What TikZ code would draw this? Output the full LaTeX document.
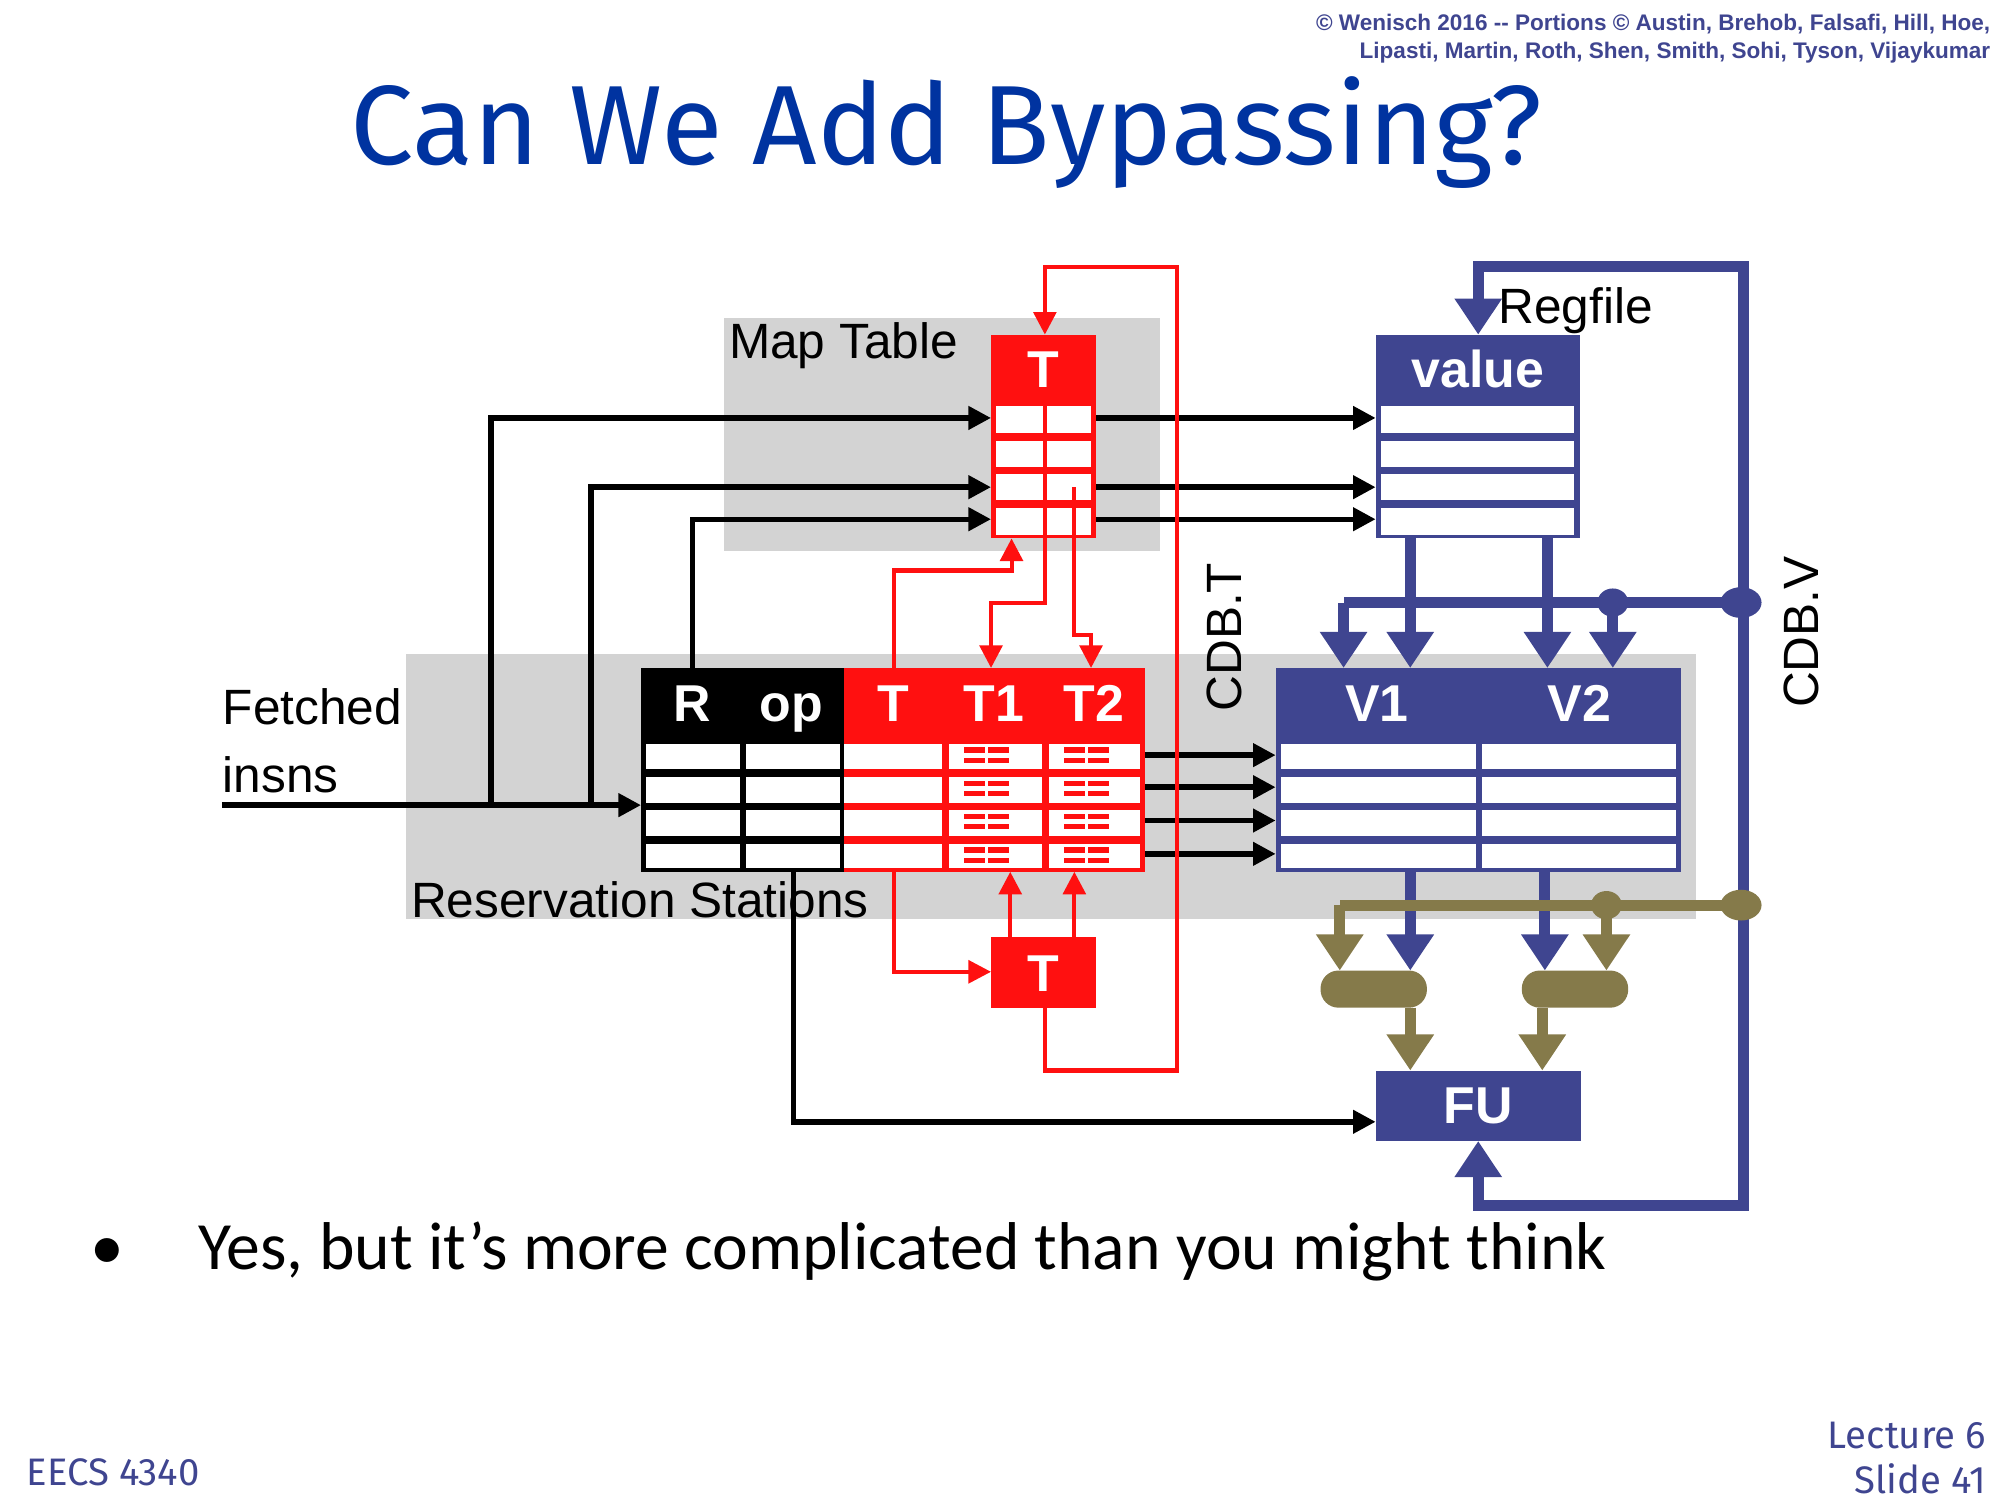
\documentclass[tikz,border=0pt]{standalone}
\usepackage{fontspec}
\setmainfont{Liberation Sans}
\newfontfamily\bodyf{Carlito}
\newfontfamily\titlef{Fira Sans}
\usetikzlibrary{arrows.meta}
\definecolor{tblue}{HTML}{0033A0}
\definecolor{pblue}{HTML}{3F4590}
\definecolor{rred}{HTML}{FF1010}
\definecolor{olive}{HTML}{857A4A}
\definecolor{bg}{HTML}{D3D3D3}
\begin{document}
\begin{tikzpicture}[x=0.01cm,y=-0.01cm,
  blk/.style={line width=1.2pt},
  blka/.style={blk,-{Triangle[width=5pt,length=5pt]}},
  red/.style={draw=rred,line width=0.9pt},
  reda/.style={red,-{Triangle[width=5pt,length=5pt]}},
  bl/.style={draw=pblue,line width=2.4pt},
  bla/.style={bl,-{Triangle[width=10pt,length=8pt]}},
  ol/.style={draw=olive,line width=2.4pt},
  ola/.style={ol,-{Triangle[width=10pt,length=8pt]}},
  lab/.style={font=\fontsize{11}{13}\selectfont,inner sep=0pt},
  hd/.style={font=\bfseries\fontsize{11.5}{13}\selectfont,text=white,inner sep=0pt,anchor=base}]
\useasboundingbox (0,0) rectangle (1560,1170);
% header texts
\node[anchor=north east,align=right,text=pblue,font=\bfseries\fontsize{5}{6.3}\selectfont,inner sep=0pt] (copy) at (1553,10) {© Wenisch 2016 -{}- Portions © Austin, Brehob, Falsafi, Hill, Hoe,\\Lipasti, Martin, Roth, Shen, Smith, Sohi, Tyson, Vijaykumar};
\node[text=tblue,font=\titlef\fontsize{25}{30}\selectfont] (title) at (738,103) {Can We Add Bypassing?};
% backgrounds
\fill[bg] (565,248) rectangle (905,430);
\fill[bg] (317,510) rectangle (1323,717);
\node[lab,anchor=west] (mtl) at (568,270) {Map Table};
\node[lab,anchor=west] (rsl) at (320,702) {Reservation Stations};
\node[lab,anchor=west,align=left] (fi) at (173,578) {Fetched\\[2pt]insns};
\node[lab,anchor=west] (rgl) at (1168,242) {Regfile};
\node[lab,rotate=90] (cdbt) at (955,497) {CDB.T};
\node[lab,rotate=90] (cdbv) at (1405,493) {CDB.V};
% RS black part
\fill[black] (500,521) rectangle (658,680);
\foreach \a/\b in {577/603,603/629,629/655,655/680}{
  \fill[white] (504,\a+3) rectangle (577,\b-3);
  \fill[white] (582,\a+3) rectangle (655,\b-3);}
\node[hd] (R) at (540,563) {R};
\node[hd] (op) at (617,563) {op};
% RS red part
\fill[rred] (658,521) rectangle (893,680);
\foreach \a/\b in {577/603,603/629,629/655,655/680}{
  \fill[white] (658,\a+3) rectangle (735,\b-3);
  \fill[white] (740,\a+3) rectangle (813,\b-3);
  \fill[white] (818,\a+3) rectangle (889,\b-3);
  \foreach \c in {752,830}{
    \fill[rred] (\c,\a+6) rectangle (\c+16,\a+10);
    \fill[rred] (\c,\a+14) rectangle (\c+16,\a+18);
    \fill[rred] (\c+19,\a+6) rectangle (\c+35,\a+10);
    \fill[rred] (\c+19,\a+14) rectangle (\c+35,\a+18);}}
\node[hd] (T) at (697,563) {T};
\node[hd] (T1) at (775,563) {T1};
\node[hd] (T2) at (853,563) {T2};
% map table T
\fill[rred] (773,261) rectangle (855,420);
\foreach \a/\b in {314/341,341/367,367/393,393/420}
  \fill[white] (777,\a+3) rectangle (851,\b-3);
\node[hd] (mT) at (814,302) {T};
% lower T box
\fill[rred] (773,731) rectangle (855,786);
\node[hd] (lT) at (814,773) {T};
% Regfile value
\fill[pblue] (1073,261) rectangle (1232,420);
\foreach \a/\b in {314/341,341/367,367/393,393/420}
  \fill[white] (1077,\a+3) rectangle (1228,\b-3);
\node[hd] (val) at (1153,302) {value};
% V table
\fill[pblue] (995,521) rectangle (1311,680);
\foreach \a/\b in {577/603,603/629,629/655,655/680}{
  \fill[white] (999,\a+3) rectangle (1151,\b-3);
  \fill[white] (1156,\a+3) rectangle (1307,\b-3);}
\node[hd] (V1) at (1074,563) {V1};
\node[hd] (V2) at (1232,563) {V2};
% FU
\fill[pblue] (1073,835) rectangle (1233,890);
\node[hd] (FU) at (1153,876) {FU};
% muxes
\fill[olive,rounded corners=4pt] (1030,757) rectangle (1113,786);
\fill[olive,rounded corners=4pt] (1187,757) rectangle (1270,786);
% black connectors
\draw[blka] (173,628) -- (500,628);
\draw[blka] (383,628) -- (383,326) -- (773,326);
\draw[blka] (461,628) -- (461,380) -- (773,380);
\draw[blka] (540,521) -- (540,405) -- (773,405);
\draw[blka] (855,326) -- (1073,326);
\draw[blka] (855,380) -- (1073,380);
\draw[blka] (855,405) -- (1073,405);
\foreach \y in {589,614,640,666} \draw[blka] (893,\y) -- (995,\y);
\draw[blka] (619,680) -- (619,875) -- (1073,875);
% red connectors
\draw[reda] (815,314) -- (815,470) -- (773,470) -- (773,521);
\draw[reda] (838,380) -- (838,495) -- (851,495) -- (851,521);
\draw[reda] (697,521) -- (697,445) -- (789,445) -- (789,420);
\draw[reda] (697,680) -- (697,758) -- (773,758);
\draw[reda] (788,731) -- (788,680);
\draw[reda] (838,731) -- (838,680);
\draw[reda] (815,786) -- (815,835) -- (918,835) -- (918,208) -- (815,208) -- (815,261);
% blue
\draw[bl] (1153,915) -- (1153,940) -- (1360,940) -- (1360,208) -- (1153,208) -- (1153,236);
\draw[bla] (1153,236) -- (1153,261);
\draw[bla] (1153,940) -- (1153,890);
\draw[bl] (1358,470) -- (1048,470);
\draw[bla] (1048,470) -- (1048,521);
\draw[bla] (1258,470) -- (1258,521);
\draw[bla] (1100,420) -- (1100,521);
\draw[bla] (1207,420) -- (1207,521);
\fill[pblue] (1358,470) ellipse (16 and 12);
\fill[pblue] (1258,470) ellipse (12 and 11);
\draw[bla] (1100,680) -- (1100,757);
\draw[bla] (1205,680) -- (1205,757);
% olive
\draw[ol] (1358,706) -- (1045,706);
\draw[ola] (1045,706) -- (1045,757);
\draw[ola] (1253,706) -- (1253,757);
\fill[olive] (1358,706) ellipse (16 and 12);
\fill[olive] (1253,706) ellipse (12 and 11);
\draw[ola] (1100,786) -- (1100,835);
\draw[ola] (1203,786) -- (1203,835);
% bullet
\node[anchor=west,font=\bodyf\fontsize{15}{18}\selectfont,inner sep=0pt] (bul) at (70,976) {•\hspace{1.1em}Yes, but it’s more complicated than you might think};
% footer
\node[anchor=west,text=pblue,font=\titlef\fontsize{8.5}{10}\selectfont,inner sep=0pt] (eecs) at (20,1148) {EECS 4340};
\node[anchor=east,align=right,text=pblue,font=\titlef\fontsize{8.5}{10}\selectfont,inner sep=0pt] (lec) at (1550,1137) {Lecture 6\\Slide 41};
\end{tikzpicture}
\end{document}
